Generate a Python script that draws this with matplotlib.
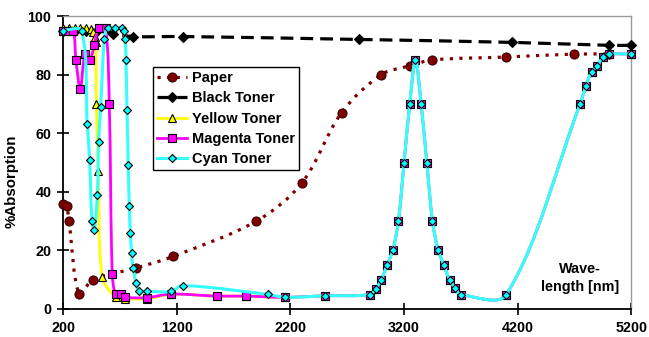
import numpy as np
import matplotlib
matplotlib.use("Agg")
import matplotlib.pyplot as plt
from matplotlib.path import Path
from matplotlib.patches import PathPatch
from matplotlib.lines import Line2D

plt.rcParams['font.family'] = ['Liberation Sans', 'DejaVu Sans']
plt.rcParams['font.weight'] = 'bold'

# wavelength [nm] and %absorption
paper_wl = [200, 230, 250, 340, 460, 840, 1170, 1900, 2300, 2650, 3000,
            3250, 3450, 4100, 4700, 5000]
paper_abs = [36, 35, 30, 5, 10, 14, 18, 30, 43, 67, 80, 83, 85, 86, 87, 87]

black_wl = [200, 300, 400, 500, 640, 816, 1250, 2800, 4150, 5000, 5200]
black_abs = [95, 95, 95, 95, 94, 93, 93, 92, 91, 90, 90]

# infrared part is the same for the three colour toners
ir_wl = [2150, 2500, 2900, 2950, 3000, 3050, 3100, 3150, 3200, 3250, 3300,
         3350, 3400, 3450, 3500, 3550, 3600, 3650, 3700, 4100, 4750, 4800,
         4850, 4900, 4950, 5000, 5200]
ir_abs = [4, 4.5, 4.9, 6.9, 10, 15, 20, 30, 50, 70, 85, 70, 50, 30, 20, 15,
          10, 7, 4.9, 4.9, 70, 76, 81, 83, 86, 87, 87]

yellow_wl = [200, 250, 300, 350, 400, 440, 460, 475, 485, 492, 508, 543,
             661, 746, 939, 1148, 1550, 1806] + ir_wl
yellow_abs = [96, 96, 96, 96, 96, 95.5, 94.5, 93, 91, 70, 47, 11, 4, 3.5,
              3.5, 5, 4.4, 4.4] + ir_abs

magenta_wl = [200, 244, 288, 312, 350, 391, 433, 473, 512, 572, 605, 631,
              661, 705, 746, 939, 1148, 1550, 1806] + ir_wl
magenta_abs = [95, 95, 95, 85, 75, 87, 85, 90, 96, 96, 70, 12, 5, 5, 4, 3.9,
               5.1, 4.4, 4.4] + ir_abs

cyan_wl = [200, 362, 411, 432, 453, 473, 500, 511, 529, 562, 590, 652, 717,
           734, 746, 752, 761, 772, 781, 790, 802, 814, 840, 869, 937, 1148,
           1251, 2000] + ir_wl
cyan_abs = [95, 95, 63, 51, 30, 27, 39, 57, 69, 92, 96, 96, 96, 95, 92, 85,
            68, 49, 35, 26, 19, 14, 9, 6, 6, 6, 8, 5] + ir_abs

# rough pixels per unit, only used to weigh the curve handles
PX_X = 568 / 5000
PX_Y = 293 / 100


def smooth_path(x, y):
    # bezier through the points, like a spreadsheet "smoothed line"
    p = np.column_stack([x, y]).astype(float)
    n = len(p)
    scr = p * [PX_X, PX_Y]
    d = np.hypot(*np.diff(scr, axis=0).T)
    d = np.maximum(d, 1e-6)
    verts = [p[0]]
    codes = [Path.MOVETO]
    for i in range(n - 1):
        if i > 0:
            t0 = (p[i + 1] - p[i - 1]) * d[i] / (d[i - 1] + d[i])
        else:
            t0 = (p[i + 1] - p[i]) / 2
        if i + 2 < n:
            t1 = (p[i + 2] - p[i]) * d[i] / (d[i] + d[i + 1])
        else:
            t1 = (p[i + 1] - p[i]) / 2
        verts += [p[i] + t0 / 3, p[i + 1] - t1 / 3, p[i + 1]]
        codes += [Path.CURVE4] * 3
    return Path(verts, codes)


series = [
    ("Paper", paper_wl, paper_abs, dict(color='#800000', ls=(0, (1, 2)), lw=2.3,
     marker='o', ms=6.5, mfc='#800000', mec='#3a0000')),
    ("Black Toner", black_wl, black_abs, dict(color='black', ls=(0, (4, 2.2)),
     lw=2.3, marker='D', ms=5.5, mfc='black', mec='black')),
    ("Yellow Toner", yellow_wl, yellow_abs, dict(color='#FFFF00', ls='-', lw=2,
     marker='^', ms=5.5, mfc='#FFFF00', mec='black')),
    ("Magenta Toner", magenta_wl, magenta_abs, dict(color='#FF00FF', ls='-',
     lw=2, marker='s', ms=5.5, mfc='#FF00FF', mec='black')),
    ("Cyan Toner", cyan_wl, cyan_abs, dict(color='#33FFFF', ls='-', lw=2.2,
     marker='D', ms=4, mfc='#00FFFF', mec='black')),
]

fig = plt.figure(figsize=(6.49, 3.37), dpi=100)
ax = fig.add_axes([0.0975, 0.0831, 0.8752, 0.8694])

handles = []
for z, (name, wl, ab, st) in enumerate(series):
    ax.add_patch(PathPatch(smooth_path(wl, ab), fill=False,
                           edgecolor=st['color'], lw=st['lw'],
                           linestyle=st['ls'], capstyle='butt',
                           zorder=2 + 2 * z))
    ax.plot(wl, ab, ls='none', marker=st['marker'], ms=st['ms'],
            mfc=st['mfc'], mec=st['mec'], mew=0.8, zorder=3 + 2 * z,
            clip_on=False)
    handles.append(Line2D([], [], color=st['color'], lw=st['lw'],
                          ls=st['ls'], marker=st['marker'], ms=st['ms'],
                          mfc=st['mfc'], mec=st['mec'], mew=0.8,
                          label=name))

ax.set_xlim(200, 5200)
ax.set_ylim(0, 100)
ax.set_xticks([200, 1200, 2200, 3200, 4200, 5200])
ax.set_yticks([0, 20, 40, 60, 80, 100])
ax.tick_params(direction='inout', length=9, width=1.2, labelsize=10.3, pad=4)
for lbl in ax.get_xticklabels() + ax.get_yticklabels():
    lbl.set_fontweight('bold')

for s in ['left', 'bottom']:
    ax.spines[s].set_linewidth(1.3)
    ax.spines[s].set_color('black')
for s in ['top', 'right']:
    ax.spines[s].set_linewidth(1.0)
    ax.spines[s].set_color('#9a9a9a')

ax.set_ylabel('%Absorption', fontsize=10.8, fontweight='bold')
ax.yaxis.set_label_coords(-0.079, 0.437)
ax.text(4748, 10.6, 'Wave-\nlength [nm]', ha='center', va='center',
        fontsize=10.4, fontweight='bold', linespacing=1.4)

leg = ax.legend(handles=handles, loc='upper left',
                bbox_to_anchor=(0.158, 0.826), borderaxespad=0,
                fancybox=False, framealpha=1, edgecolor='black',
                fontsize=10.5, numpoints=1, handlelength=2.05,
                handletextpad=0.3, labelspacing=0.42, borderpad=0.3)
leg.get_frame().set_linewidth(1.0)
for t in leg.get_texts():
    t.set_fontweight('bold')

fig.savefig('out.png', dpi=100)
